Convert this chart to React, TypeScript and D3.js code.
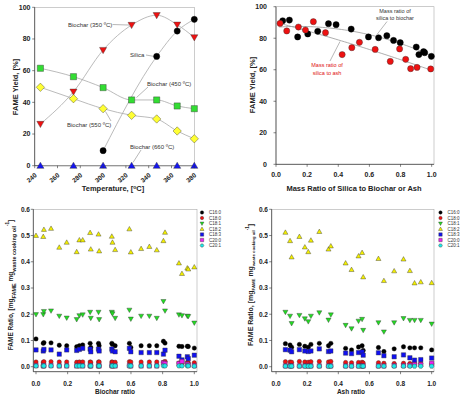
import React from "react";
import * as d3 from "d3";

const FONT = "'Liberation Sans', Arial, Helvetica, sans-serif";

// ---- top left: FAME yield vs temperature
const temps = [245, 274, 300, 325, 347, 365, 380];
const biochar350 = [26.3, 46.7, 73, 88.8, 95, 89, 81];
const biochar450 = [61.5, 56.2, 49.3, 41.5, 41.5, 37.7, 36];
const biochar550 = [49.5, 42.3, 36, 31.8, 29.5, 21.9, 17];
const biochar660 = [0, 0, 0, 0, 0, 0, 0];
const silicaTemps = [300, 347, 365, 380];
const silica = [9.5, 69, 85, 92.4];
const tempTicks = [240, 260, 280, 300, 320, 340, 360, 380];
const yieldTicks = [0, 20, 40, 60, 80, 100];

// ---- top right: yield vs mass ratio
const bioRatioX = [0.043, 0.086, 0.139, 0.204, 0.268, 0.337, 0.386, 0.483, 0.594, 0.659, 0.712, 0.755, 0.798, 0.901, 0.918, 0.948, 0.955, 0.998];
const bioRatioY = [91.1, 91.5, 80.8, 82.7, 84.4, 89.2, 88.6, 85.8, 80.8, 80.3, 81.6, 78.6, 77.2, 74.4, 69.6, 71.5, 70.8, 68.5];
const ashRatioX = [0.026, 0.069, 0.144, 0.189, 0.24, 0.318, 0.425, 0.487, 0.536, 0.637, 0.734, 0.794, 0.833, 0.865, 0.906, 0.994];
const ashRatioY = [89.4, 84.6, 87.1, 85.2, 90.5, 83.5, 69.6, 74.0, 77.4, 72.9, 65.3, 73.2, 66.6, 60.7, 61.5, 60.5];
const ratioTicks = [0, 0.2, 0.4, 0.6, 0.8, 1.0];

// ---- bottom: FAME composition
const fameNames = ["C16:0", "C18:0", "C18:1", "C18:2", "C18:3", "C20:0", "C20:1"];
const fameColors = ["#000000", "#f01010", "#22dd22", "#f4f000", "#1010f0", "#f020f0", "#20e8e8"];
const fameShapes = ["circle", "circle", "triDown", "triUp", "square", "square", "hexagon"];
const fameTicks = [0, 0.1, 0.2, 0.3, 0.4, 0.5, 0.6];

const biocharX = [0.0, 0.046, 0.05, 0.095, 0.147, 0.194, 0.257, 0.274, 0.295, 0.342, 0.346, 0.395, 0.399, 0.479, 0.483, 0.5, 0.59, 0.599, 0.664, 0.716, 0.763, 0.805, 0.815, 0.903, 0.922, 0.956, 0.962, 1.0];
const bC160 = [0.106, 0.089, 0.092, 0.091, 0.082, 0.080, 0.076, 0.080, 0.083, 0.089, 0.073, 0.089, 0.080, 0.089, 0.085, 0.080, 0.089, 0.073, 0.080, 0.080, 0.080, 0.097, 0.090, 0.078, 0.077, 0.078, 0.077, 0.071];
const bC180 = [0.018, 0.017, 0.019, 0.019, 0.018, 0.018, 0.017, 0.018, 0.018, 0.018, 0.017, 0.018, 0.018, 0.018, 0.017, 0.017, 0.019, 0.018, 0.018, 0.018, 0.018, 0.017, 0.020, 0.014, 0.012, 0.016, 0.015, 0.015];
const bC181 = [0.199, 0.199, 0.211, 0.213, 0.193, 0.186, 0.180, 0.195, 0.198, 0.208, 0.185, 0.208, 0.180, 0.208, 0.202, 0.185, 0.216, 0.182, 0.193, 0.193, 0.185, 0.249, 0.213, 0.198, 0.195, 0.193, 0.192, 0.167];
const bC182 = [0.50, 0.496, 0.523, 0.527, 0.455, 0.474, 0.438, 0.483, 0.483, 0.511, 0.448, 0.505, 0.441, 0.497, 0.474, 0.446, 0.525, 0.437, 0.45, 0.458, 0.445, 0.48, 0.512, 0.395, 0.355, 0.376, 0.372, 0.38];
const bC183 = [0.064, 0.060, 0.066, 0.064, 0.048, 0.064, 0.062, 0.066, 0.070, 0.067, 0.057, 0.067, 0.060, 0.067, 0.060, 0.057, 0.070, 0.057, 0.054, 0.054, 0.054, 0.048, 0.063, 0.040, 0.026, 0.038, 0.031, 0.044];
const bC200 = [0.004, 0.003, 0.004, 0.004, 0.003, 0.003, 0.003, 0.004, 0.003, 0.004, 0.003, 0.003, 0.003, 0.004, 0.003, 0.003, 0.004, 0.003, 0.003, 0.003, 0.003, 0.015, 0.012, 0.012, 0.020, 0.010, 0.006, 0.004];
const bC201 = [0.003, 0.003, 0.003, 0.003, 0.003, 0.003, 0.003, 0.003, 0.003, 0.003, 0.003, 0.003, 0.003, 0.003, 0.003, 0.003, 0.003, 0.003, 0.003, 0.003, 0.003, 0.003, 0.003, 0.003, 0.003, 0.003, 0.003, 0.002];

const ashX = [0.06, 0.09, 0.10, 0.15, 0.185, 0.207, 0.224, 0.278, 0.337, 0.352, 0.447, 0.485, 0.53, 0.553, 0.56, 0.658, 0.693, 0.759, 0.819, 0.86, 0.89, 0.93, 1.0];
const aC160 = [0.088, 0.083, 0.074, 0.085, 0.078, 0.074, 0.085, 0.089, 0.080, 0.089, 0.070, 0.064, 0.075, 0.080, 0.062, 0.073, 0.058, 0.068, 0.076, 0.072, 0.072, 0.072, 0.064];
const aC180 = [0.019, 0.018, 0.017, 0.020, 0.018, 0.017, 0.019, 0.020, 0.018, 0.020, 0.016, 0.015, 0.016, 0.017, 0.014, 0.015, 0.013, 0.012, 0.013, 0.012, 0.012, 0.012, 0.011];
const aC181 = [0.208, 0.193, 0.165, 0.196, 0.183, 0.172, 0.193, 0.206, 0.178, 0.198, 0.158, 0.145, 0.174, 0.181, 0.139, 0.168, 0.133, 0.168, 0.184, 0.177, 0.177, 0.177, 0.163];
const aC182 = [0.512, 0.48, 0.418, 0.496, 0.456, 0.438, 0.482, 0.515, 0.448, 0.46, 0.395, 0.37, 0.422, 0.435, 0.342, 0.412, 0.328, 0.365, 0.41, 0.366, 0.319, 0.323, 0.32];
const aC183 = [0.065, 0.063, 0.057, 0.065, 0.060, 0.058, 0.060, 0.068, 0.058, 0.060, 0.052, 0.050, 0.054, 0.056, 0.044, 0.053, 0.042, 0.038, 0.045, 0.034, 0.025, 0.027, 0.033];
const aC200 = [0.003, 0.003, 0.003, 0.003, 0.003, 0.003, 0.003, 0.003, 0.003, 0.003, 0.003, 0.003, 0.003, 0.003, 0.003, 0.003, 0.003, 0.004, 0.004, 0.005, 0.008, 0.008, 0.013];
const aC201 = [0.002, 0.002, 0.002, 0.002, 0.002, 0.002, 0.002, 0.002, 0.002, 0.002, 0.002, 0.002, 0.002, 0.002, 0.002, 0.002, 0.002, 0.002, 0.002, 0.002, 0.002, 0.002, 0.002];

const biocharSeries = [bC160, bC180, bC181, bC182, bC183, bC200, bC201];
const ashSeries = [aC160, aC180, aC181, aC182, aC183, aC200, aC201];

function shapePath(shape: string, s: number) {
  if (shape === "circle") return d3.symbol(d3.symbolCircle, Math.PI * s * s)()!;
  if (shape === "square") return d3.symbol(d3.symbolSquare, 4 * s * s)()!;
  if (shape === "triUp" || shape === "triDown") {
    const k = shape === "triUp" ? 1 : -1;
    const h = s * 1.15;
    return `M0,${-k * h}L${h},${k * h * 0.75}L${-h},${k * h * 0.75}Z`;
  }
  if (shape === "diamond") {
    const d = s * 1.35;
    return `M0,${-d}L${d},0L0,${d}L${-d},0Z`;
  }
  // hexagon
  const pts = [0, 1, 2, 3, 4, 5].map((i) => [s * 1.1 * Math.cos((i * Math.PI) / 3), s * 1.1 * Math.sin((i * Math.PI) / 3)]);
  return "M" + pts.map((p) => p.join(",")).join("L") + "Z";
}

const Marker = ({ x, y, shape, color, s }: any) => (
  <path
    d={shapePath(shape, s)}
    transform={`translate(${x},${y})`}
    fill={color}
    stroke={color === "#000000" ? "#000" : "#333"}
    strokeWidth={0.4}
  />
);

// least-squares quadratic used for the trend lines
function quadFit(xs: number[], ys: number[]) {
  let s = [0, 0, 0, 0, 0], t = [0, 0, 0];
  xs.forEach((x, i) => {
    for (let k = 0; k < 5; k++) s[k] += Math.pow(x, k);
    for (let k = 0; k < 3; k++) t[k] += ys[i] * Math.pow(x, k);
  });
  const M = [[s[0], s[1], s[2]], [s[1], s[2], s[3]], [s[2], s[3], s[4]]];
  const det = (m: number[][]) =>
    m[0][0] * (m[1][1] * m[2][2] - m[1][2] * m[2][1]) -
    m[0][1] * (m[1][0] * m[2][2] - m[1][2] * m[2][0]) +
    m[0][2] * (m[1][0] * m[2][1] - m[1][1] * m[2][0]);
  const D = det(M);
  const c = [0, 1, 2].map((j) => det(M.map((row, r) => row.map((v, col) => (col === j ? t[r] : v)))) / D);
  return (x: number) => c[0] + c[1] * x + c[2] * x * x;
}

const tickStyle = { fontFamily: FONT, fontWeight: 700, fill: "#222" } as const;

const Frame = ({ x, y }: any) => {
  const [x0, x1] = x.range();
  const [y0, y1] = y.range();
  return (
    <g>
      <rect x={x0} y={y1} width={x1 - x0} height={y0 - y1} fill="none" stroke="#aaa" strokeWidth={0.6} />
      <line x1={x0} x2={x0} y1={y0} y2={y1} stroke="#333" strokeWidth={0.7} />
      <line x1={x0} x2={x1} y1={y0} y2={y0} stroke="#333" strokeWidth={0.7} />
    </g>
  );
};

const YTicks = ({ x, y, ticks, fmt, size, labelX }: any) => {
  const x0 = x.range()[0];
  return (
    <g>
      {ticks.map((t: number) => (
        <g key={t}>
          <line x1={x0 - 2.5} x2={x0} y1={y(t)} y2={y(t)} stroke="#333" strokeWidth={0.6} />
          <text x={labelX} y={y(t)} dy="0.35em" textAnchor="end" fontSize={size} {...tickStyle}>
            {fmt(t)}
          </text>
        </g>
      ))}
    </g>
  );
};

const XTicks = ({ x, y, ticks, fmt, size, labelY }: any) => {
  const y0 = y.range()[0];
  return (
    <g>
      {ticks.map((t: number) => (
        <g key={t}>
          <line x1={x(t)} x2={x(t)} y1={y0} y2={y0 + 2.5} stroke="#333" strokeWidth={0.6} />
          <text x={x(t)} y={labelY} textAnchor="middle" fontSize={size} {...tickStyle}>
            {fmt(t)}
          </text>
        </g>
      ))}
    </g>
  );
};

const TempPanel = () => {
  const x = d3.scaleLinear([240, 380], [34.7, 194.3]);
  const y = d3.scaleLinear([0, 100], [165.7, 7.3]);
  const line = d3.line<number>().curve(d3.curveMonotoneX);
  const path = (xs: number[], ys: number[]) =>
    line.x((_, i) => x(xs[i])).y((d) => y(d))(ys)!;
  const groups = [
    { ys: biochar350, shape: "triDown", color: "#ee1111" },
    { ys: biochar450, shape: "square", color: "#33dd33" },
    { ys: biochar550, shape: "diamond", color: "#ffff33" },
    { ys: biochar660, shape: "triUp", color: "#1515ee" },
  ];
  const note = { fontFamily: FONT, fontSize: 6, fill: "#333" };
  const lead = { stroke: "#888", strokeWidth: 0.6 };
  return (
    <g>
      <Frame x={x} y={y} />
      {groups.map((g, k) => (
        <path key={k} d={path(temps, g.ys)} fill="none" stroke="#aaa" strokeWidth={0.8} />
      ))}
      <path d={path(silicaTemps, silica)} fill="none" stroke="#aaa" strokeWidth={0.8} />
      <line x1={112.5} y1={24.5} x2={129} y2={y(88.8)} {...lead} />
      <line x1={146} y1={55} x2={154} y2={y(69)} {...lead} />
      <line x1={148} y1={87} x2={136.5} y2={97.5} {...lead} />
      <line x1={111} y1={121} x2={105.5} y2={111.5} {...lead} />
      <line x1={141} y1={150} x2={133} y2={162.5} {...lead} />
      {groups.map((g, k) =>
        g.ys.map((v, i) => <Marker key={k + "-" + i} x={x(temps[i])} y={y(v)} shape={g.shape} color={g.color} s={3.1} />)
      )}
      {silica.map((v, i) => (
        <Marker key={"s" + i} x={x(silicaTemps[i])} y={y(v)} shape="circle" color="#000000" s={3.1} />
      ))}
      <text x={68} y={26.5} {...note}>Biochar (350 ºC)</text>
      <text x={130} y={57} {...note}>Silica</text>
      <text x={147} y={86} {...note}>Biochar (450 ºC)</text>
      <text x={67} y={127} {...note}>Biochar (550 ºC)</text>
      <text x={130} y={148.5} {...note}>Biochar (660 ºC)</text>
      <YTicks x={x} y={y} ticks={yieldTicks} fmt={(t: number) => String(t)} size={7} labelX={30.5} />
      {tempTicks.map((t) => (
        <g key={t}>
          <line x1={x(t)} x2={x(t)} y1={165.7} y2={168.2} stroke="#333" strokeWidth={0.6} />
          <text transform={`translate(${x(t) + 2.5},${176}) rotate(-40)`} textAnchor="end" fontSize={6.5} {...tickStyle}>
            {t}
          </text>
        </g>
      ))}
      <text x={113} y={191} textAnchor="middle" fontSize={7.5} {...tickStyle}>
        Temperature, [<tspan fontSize={5} dy={-2.5}>o</tspan><tspan dy={2.5}>C]</tspan>
      </text>
      <text transform="translate(17.5,87) rotate(-90)" textAnchor="middle" fontSize={7.5} {...tickStyle}>
        FAME Yield, [%]
      </text>
    </g>
  );
};

const RatioPanel = () => {
  const x = d3.scaleLinear([0, 1.015], [276, 434]);
  const y = d3.scaleLinear([0, 100], [164.3, 6.7]);
  const fitB = quadFit(bioRatioX, bioRatioY);
  const fitA = quadFit(ashRatioX, ashRatioY);
  const grid = d3.range(0.02, 1.0001, 0.02);
  const line = d3.line<number>().x((d) => x(d));
  const note = { fontFamily: FONT, fontSize: 5.5, textAnchor: "middle" as const };
  return (
    <g>
      <Frame x={x} y={y} />
      <path d={line.y((d) => y(fitB(d)))(grid)!} fill="none" stroke="#999" strokeWidth={0.8} />
      <path d={line.y((d) => y(fitA(d)))(grid)!} fill="none" stroke="#999" strokeWidth={0.8} />
      <line x1={387} y1={21.5} x2={377} y2={34.5} stroke="#888" strokeWidth={0.6} />
      <line x1={330} y1={61} x2={340} y2={41.5} stroke="#888" strokeWidth={0.6} />
      {bioRatioX.map((v, i) => (
        <Marker key={"b" + i} x={x(v)} y={y(bioRatioY[i])} shape="circle" color="#000000" s={3.1} />
      ))}
      {ashRatioX.map((v, i) => (
        <Marker key={"a" + i} x={x(v)} y={y(ashRatioY[i])} shape="circle" color="#ee1111" s={3.1} />
      ))}
      <text x={395} y={13} fill="#333" {...note}>Mass ratio of</text>
      <text x={395} y={20} fill="#333" {...note}>silica to biochar</text>
      <text x={327} y={67} fill="#e01010" {...note}>Mass ratio of</text>
      <text x={327} y={74.7} fill="#e01010" {...note}>silica to ash</text>
      <YTicks x={x} y={y} ticks={yieldTicks} fmt={(t: number) => String(t)} size={7} labelX={267} />
      <XTicks x={x} y={y} ticks={ratioTicks} fmt={d3.format(".1f")} size={7} labelY={176.5} />
      <text x={354} y={190.5} textAnchor="middle" fontSize={7.5} {...tickStyle}>
        Mass Ratio of Silica to Biochar or Ash
      </text>
      <text transform="translate(254.5,85) rotate(-90)" textAnchor="middle" fontSize={7.5} {...tickStyle}>
        FAME Yield, [%]
      </text>
    </g>
  );
};

const FamePanel = ({ xs, series, x, title, titleX, labelX, ylabX, sub, legendX }: any) => {
  const y = d3.scaleLinear([-0.019, 0.6], [371.7, 209.3]);
  return (
    <g>
      <Frame x={x} y={y} />
      {series.map((vals: number[], k: number) =>
        vals.map((v, i) => (
          <Marker key={k + "-" + i} x={x(xs[i])} y={y(v)} shape={fameShapes[k]} color={fameColors[k]} s={2.2} />
        ))
      )}
      {fameNames.map((n, k) => (
        <g key={n}>
          <Marker x={legendX} y={212.5 + k * 5.5} shape={fameShapes[k]} color={fameColors[k]} s={1.7} />
          <text x={legendX + 7} y={212.5 + k * 5.5} dy="0.35em" fontFamily={FONT} fontSize={4.5} fill="#333">
            {n}
          </text>
        </g>
      ))}
      <YTicks x={x} y={y} ticks={fameTicks} fmt={d3.format(".1f")} size={6.5} labelX={labelX} />
      <XTicks x={x} y={y} ticks={ratioTicks} fmt={d3.format(".1f")} size={6.5} labelY={385.5} />
      <text x={titleX} y={394} textAnchor="middle" fontSize={6.5} {...tickStyle}>
        {title}
      </text>
      <text transform={`translate(${ylabX},285) rotate(-90)`} textAnchor="middle" fontSize={sub.main} {...tickStyle}>
        FAME Ratio, [mg
        <tspan fontSize={sub.size} dy={sub.dy}>FAME</tspan>
        <tspan fontSize={sub.main} dy={-sub.dy}> mg</tspan>
        <tspan fontSize={sub.size} dy={sub.dy}>waste cooking oil</tspan>
        <tspan fontSize={4.5} dy={-sub.dy - 4}>-1</tspan>
        <tspan fontSize={sub.main} dy={4}>]</tspan>
      </text>
    </g>
  );
};

export default function App() {
  return (
    <svg width={461} height={396} style={{ position: "absolute", left: 0, top: 0, background: "#fff" }}>
      <rect width={461} height={396} fill="#fff" />
      <TempPanel />
      <RatioPanel />
      <FamePanel
        xs={biocharX}
        series={biocharSeries}
        x={d3.scaleLinear([-0.017, 1.017], [33.3, 197])}
        title="Biochar ratio"
        titleX={115}
        labelX={30}
        ylabX={13.3}
        sub={{ main: 6.5, size: 5.5, dy: 2.5 }}
        legendX={202}
      />
      <FamePanel
        xs={ashX}
        series={ashSeries}
        x={d3.scaleLinear([-0.028, 1.015], [271.7, 434])}
        title="Ash ratio"
        titleX={351}
        labelX={268}
        ylabX={252.5}
        sub={{ main: 7, size: 4.3, dy: 2 }}
        legendX={440.5}
      />
    </svg>
  );
}
